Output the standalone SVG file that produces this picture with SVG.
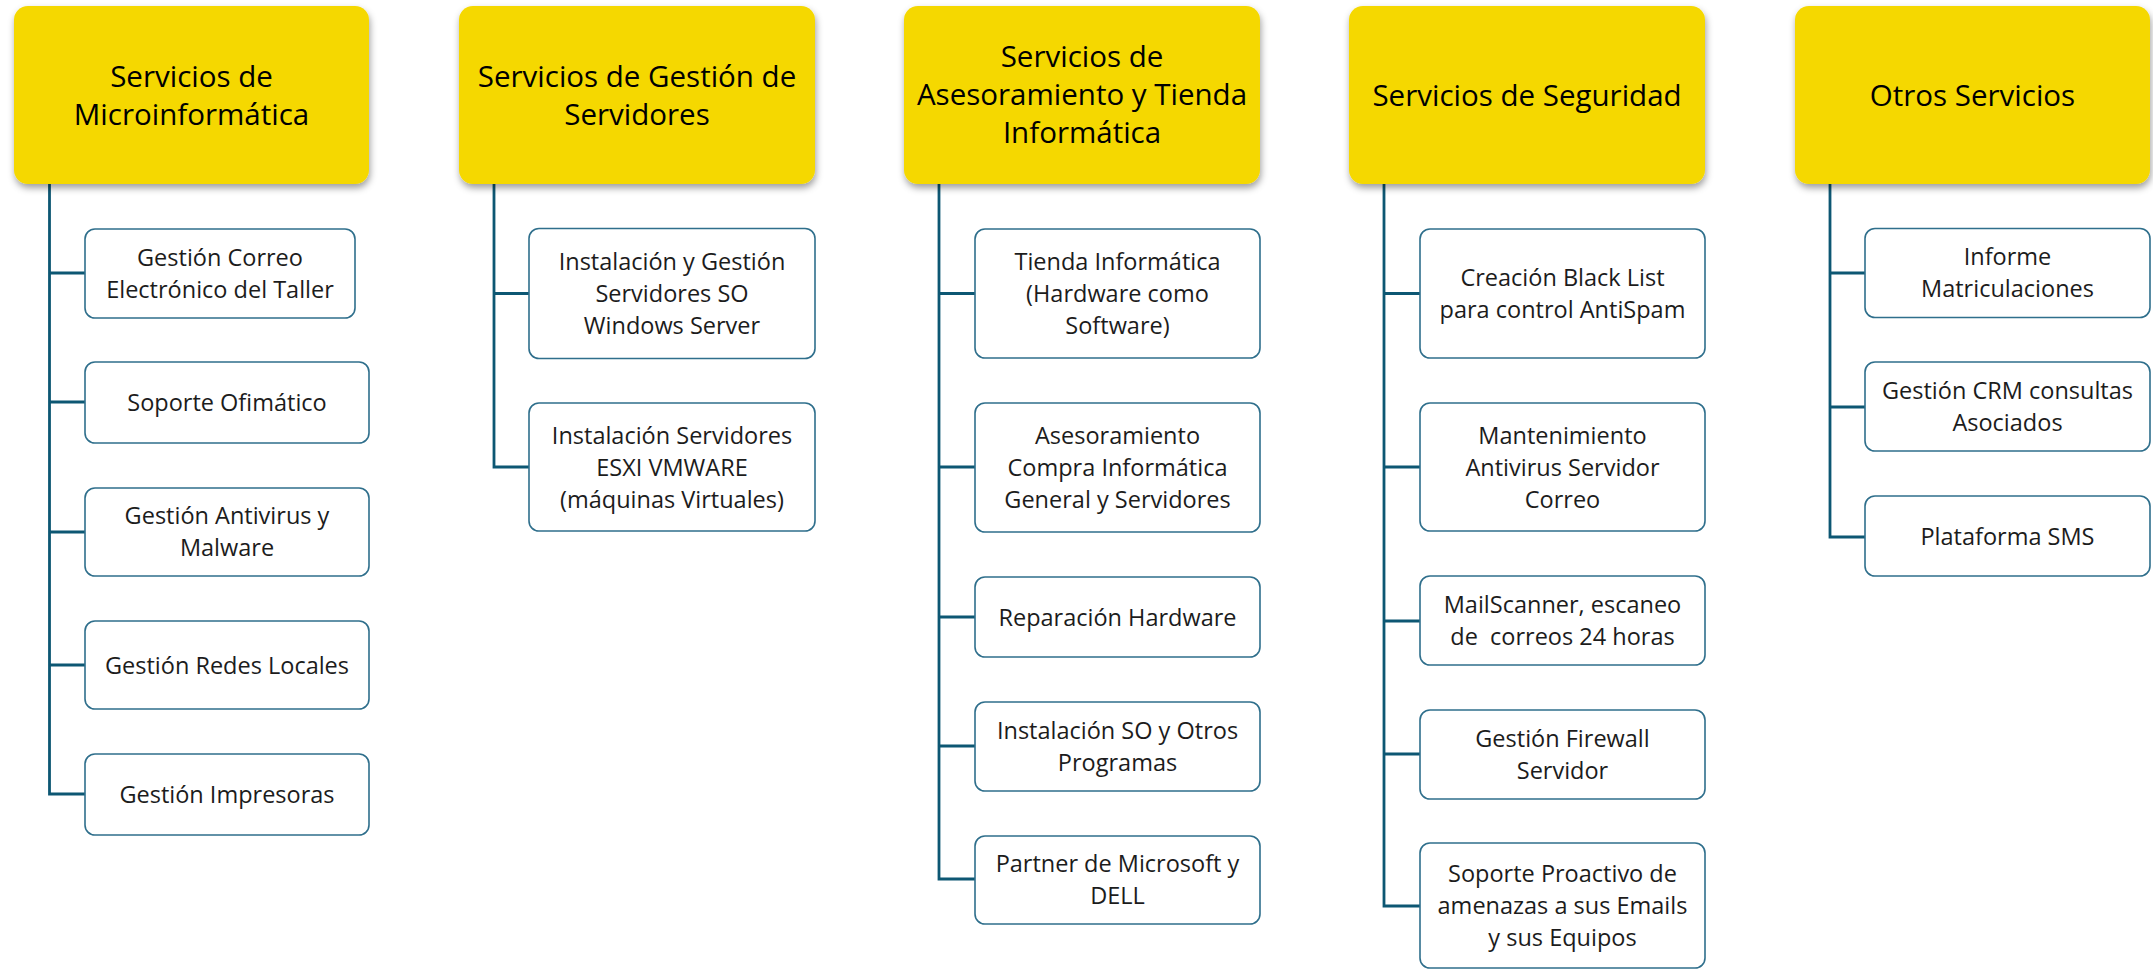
<svg xmlns="http://www.w3.org/2000/svg" width="2153" height="970" viewBox="0 0 2153 970">
<style>
.hdr{fill:#F5D800;}
.box{fill:#ffffff;stroke:#2F6F8C;stroke-width:1.6;}
.ht{font-family:"Open Sans","Noto Sans",sans-serif;font-size:29.5px;fill:#000;text-anchor:middle;}
.bt{font-family:"Open Sans","Noto Sans",sans-serif;font-size:23.5px;fill:#1c1c1c;text-anchor:middle;}
.con{fill:none;stroke:#0D5773;stroke-width:2.8;}
</style>
<defs>
<filter id="sh" x="-10%" y="-10%" width="125%" height="130%">
<feDropShadow dx="1" dy="4" stdDeviation="3.5" flood-color="#000" flood-opacity="0.38"/>
</filter>
</defs>
<rect width="2153" height="970" fill="#ffffff"/>

<g id="connectors">
<path class="con" d="M49.5 184 V794 H85 M49.5 273 H85 M49.5 402 H85 M49.5 532 H85 M49.5 665 H85"/>
<path class="con" d="M494 184 V467 H529 M494 293.5 H529"/>
<path class="con" d="M939 184 V879 H975 M939 293.5 H975 M939 467 H975 M939 617 H975 M939 746 H975"/>
<path class="con" d="M1384 184 V906 H1420 M1384 293.5 H1420 M1384 467 H1420 M1384 621 H1420 M1384 754 H1420"/>
<path class="con" d="M1830 184 V537 H1865 M1830 273 H1865 M1830 407 H1865"/>
</g>

<!-- Column 1 -->
<g id="h1"><rect class="hdr" filter="url(#sh)" x="14" y="6" width="355" height="178" rx="14"/>
<text class="ht" x="191.5" y="87">Servicios de</text><text class="ht" x="191.5" y="125">Microinformática</text></g>
<g id="c1n1"><rect class="box" x="85" y="229" width="270" height="89" rx="10"/>
<text class="bt" x="220" y="266">Gestión Correo</text><text class="bt" x="220" y="298">Electrónico del Taller</text></g>
<g id="c1n2"><rect class="box" x="85" y="362" width="284" height="81" rx="10"/>
<text class="bt" x="227" y="411">Soporte Ofimático</text></g>
<g id="c1n3"><rect class="box" x="85" y="488" width="284" height="88" rx="10"/>
<text class="bt" x="227" y="524">Gestión Antivirus y</text><text class="bt" x="227" y="556">Malware</text></g>
<g id="c1n4"><rect class="box" x="85" y="621" width="284" height="88" rx="10"/>
<text class="bt" x="227" y="673.5">Gestión Redes Locales</text></g>
<g id="c1n5"><rect class="box" x="85" y="754" width="284" height="81" rx="10"/>
<text class="bt" x="227" y="803">Gestión Impresoras</text></g>

<!-- Column 2 -->
<g id="h2"><rect class="hdr" filter="url(#sh)" x="459" y="6" width="356" height="178" rx="14"/>
<text class="ht" x="637" y="87">Servicios de Gestión de</text><text class="ht" x="637" y="125">Servidores</text></g>
<g id="c2n1"><rect class="box" x="529" y="228.5" width="286" height="130" rx="10"/>
<text class="bt" x="672" y="270">Instalación y Gestión</text><text class="bt" x="672" y="302">Servidores SO</text><text class="bt" x="672" y="334">Windows Server</text></g>
<g id="c2n2"><rect class="box" x="529" y="403" width="286" height="128" rx="10"/>
<text class="bt" x="672" y="443.5">Instalación Servidores</text><text class="bt" x="672" y="475.5">ESXI VMWARE</text><text class="bt" x="672" y="507.5">(máquinas Virtuales)</text></g>

<!-- Column 3 -->
<g id="h3"><rect class="hdr" filter="url(#sh)" x="904" y="6" width="356" height="178" rx="14"/>
<text class="ht" x="1082" y="67">Servicios de</text><text class="ht" x="1082" y="105">Asesoramiento y Tienda</text><text class="ht" x="1082" y="143">Informática</text></g>
<g id="c3n1"><rect class="box" x="975" y="229" width="285" height="129" rx="10"/>
<text class="bt" x="1117.5" y="270">Tienda Informática</text><text class="bt" x="1117.5" y="302">(Hardware como</text><text class="bt" x="1117.5" y="334">Software)</text></g>
<g id="c3n2"><rect class="box" x="975" y="403" width="285" height="129" rx="10"/>
<text class="bt" x="1117.5" y="443.5">Asesoramiento</text><text class="bt" x="1117.5" y="475.5">Compra Informática</text><text class="bt" x="1117.5" y="507.5">General y Servidores</text></g>
<g id="c3n3"><rect class="box" x="975" y="577" width="285" height="80" rx="10"/>
<text class="bt" x="1117.5" y="625.5">Reparación Hardware</text></g>
<g id="c3n4"><rect class="box" x="975" y="702" width="285" height="89" rx="10"/>
<text class="bt" x="1117.5" y="738.5">Instalación SO y Otros</text><text class="bt" x="1117.5" y="770.5">Programas</text></g>
<g id="c3n5"><rect class="box" x="975" y="836" width="285" height="88" rx="10"/>
<text class="bt" x="1117.5" y="872">Partner de Microsoft y</text><text class="bt" x="1117.5" y="904">DELL</text></g>

<!-- Column 4 -->
<g id="h4"><rect class="hdr" filter="url(#sh)" x="1349" y="6" width="356" height="178" rx="14"/>
<text class="ht" x="1527" y="106">Servicios de Seguridad</text></g>
<g id="c4n1"><rect class="box" x="1420" y="229" width="285" height="129" rx="10"/>
<text class="bt" x="1562.5" y="286">Creación Black List</text><text class="bt" x="1562.5" y="318">para control AntiSpam</text></g>
<g id="c4n2"><rect class="box" x="1420" y="403" width="285" height="128" rx="10"/>
<text class="bt" x="1562.5" y="443.5">Mantenimiento</text><text class="bt" x="1562.5" y="475.5">Antivirus Servidor</text><text class="bt" x="1562.5" y="507.5">Correo</text></g>
<g id="c4n3"><rect class="box" x="1420" y="576" width="285" height="89" rx="10"/>
<text class="bt" x="1562.5" y="613">MailScanner, escaneo</text><text class="bt" x="1562.5" y="645" style="white-space:pre">de  correos 24 horas</text></g>
<g id="c4n4"><rect class="box" x="1420" y="710" width="285" height="89" rx="10"/>
<text class="bt" x="1562.5" y="747">Gestión Firewall</text><text class="bt" x="1562.5" y="779">Servidor</text></g>
<g id="c4n5"><rect class="box" x="1420" y="843" width="285" height="125" rx="10"/>
<text class="bt" x="1562.5" y="882">Soporte Proactivo de</text><text class="bt" x="1562.5" y="914">amenazas a sus Emails</text><text class="bt" x="1562.5" y="946">y sus Equipos</text></g>

<!-- Column 5 -->
<g id="h5"><rect class="hdr" filter="url(#sh)" x="1795" y="6" width="355" height="178" rx="14"/>
<text class="ht" x="1972.5" y="106">Otros Servicios</text></g>
<g id="c5n1"><rect class="box" x="1865" y="228.5" width="285" height="89" rx="10"/>
<text class="bt" x="2007.5" y="265">Informe</text><text class="bt" x="2007.5" y="297">Matriculaciones</text></g>
<g id="c5n2"><rect class="box" x="1865" y="362" width="285" height="89" rx="10"/>
<text class="bt" x="2007.5" y="398.5">Gestión CRM consultas</text><text class="bt" x="2007.5" y="430.5">Asociados</text></g>
<g id="c5n3"><rect class="box" x="1865" y="496" width="285" height="80" rx="10"/>
<text class="bt" x="2007.5" y="545">Plataforma SMS</text></g>
</svg>
